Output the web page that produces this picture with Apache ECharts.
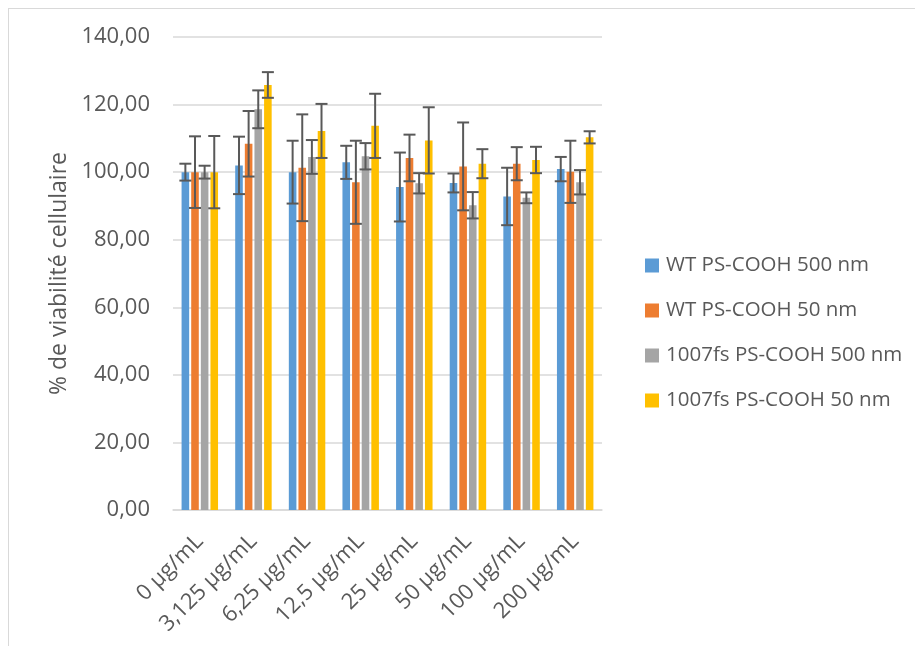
<!DOCTYPE html>
<html><head><meta charset="utf-8">
<script src="https://cdn.jsdelivr.net/npm/echarts@6/dist/echarts.min.js"></script>
<style>
html,body{margin:0;padding:0;background:#fff;}
#frame{position:absolute;left:8px;top:8px;width:920px;height:650px;border-left:1.5px solid #d9d9d9;border-top:1.5px solid #d9d9d9;}
#c{position:absolute;left:0;top:0;width:915px;height:646px;}
</style></head><body>
<div id="frame"></div>
<div id="c"></div>
<script>
const categories = ['0 µg/mL','3,125 µg/mL','6,25 µg/mL','12,5 µg/mL','25 µg/mL','50 µg/mL','100 µg/mL','200 µg/mL'];
const seriesNames = ['WT PS-COOH 500 nm','WT PS-COOH 50 nm','1007fs PS-COOH 500 nm','1007fs PS-COOH 50 nm'];
const colors = ['#5B9BD5','#ED7D31','#A5A5A5','#FFC000'];
const wt500 = [100.0, 102.0, 100.0, 102.9, 95.6, 96.8, 92.8, 100.9];
const wt50 = [100.0, 108.4, 101.3, 97.0, 104.2, 101.7, 102.5, 100.1];
const fs500 = [100.0, 118.6, 104.5, 104.7, 96.7, 90.2, 92.4, 97.0];
const fs50 = [100.0, 125.8, 112.2, 113.7, 109.4, 102.5, 103.6, 110.3];
const wt500Err = [2.5, 8.5, 9.3, 4.9, 10.2, 2.8, 8.5, 3.6];
const wt50Err = [10.6, 9.7, 15.8, 12.3, 6.9, 13.0, 4.9, 9.2];
const fs500Err = [1.9, 5.6, 5.0, 3.9, 3.0, 3.9, 1.6, 3.6];
const fs50Err = [10.7, 3.8, 8.0, 9.5, 9.8, 4.3, 3.9, 1.8];
const yTicks = [0, 20, 40, 60, 80, 100, 120, 140];

const values = [wt500, wt50, fs500, fs50];
const errors = [wt500Err, wt50Err, fs500Err, fs50Err];
const CAT_GAP = 0.32, BAR_GAP = 0.27;
const FONT = 'Open Sans';

const chart = echarts.init(document.getElementById('c'));
const series = [];
values.forEach((v, si) => {
  series.push({
    name: seriesNames[si], type: 'bar', data: v,
    itemStyle: {color: colors[si]},
    barGap: (BAR_GAP*100)+'%', barCategoryGap: (CAT_GAP*100)+'%'
  });
});
values.forEach((v, si) => {
  series.push({
    type: 'custom', silent: true, z: 10,
    data: v.map((val, i) => [i, val - errors[si][i], val + errors[si][i]]),
    renderItem: function(params, api) {
      const i = api.value(0);
      const lo = api.coord([i, api.value(1)]);
      const hi = api.coord([i, api.value(2)]);
      const catW = api.size([1, 0])[0];
      const groupW = catW * (1 - CAT_GAP);
      const bw = groupW / (4 + 3 * BAR_GAP);
      const x = lo[0] - groupW / 2 + bw / 2 + si * bw * (1 + BAR_GAP);
      const cap = 6;
      const st = {stroke: '#595959', lineWidth: 2};
      return {type: 'group', children: [
        {type: 'line', shape: {x1: x, y1: lo[1], x2: x, y2: hi[1]}, style: st},
        {type: 'line', shape: {x1: x - cap, y1: lo[1], x2: x + cap, y2: lo[1]}, style: st},
        {type: 'line', shape: {x1: x - cap, y1: hi[1], x2: x + cap, y2: hi[1]}, style: st}
      ]};
    }
  });
});

chart.setOption({
  animation: false,
  textStyle: {fontFamily: FONT},
  grid: {left: 173, right: 313, top: 37, bottom: 136},
  legend: {
    orient: 'vertical', left: 640, top: 250, itemGap: 24,
    itemWidth: 14, itemHeight: 14, icon: 'rect',
    data: seriesNames,
    textStyle: {fontFamily: FONT, fontSize: 20.5, lineHeight: 21, color: '#595959', padding: [0,0,0,2]}
  },
  xAxis: {
    type: 'category', data: categories,
    axisLine: {lineStyle: {color: '#d9d9d9', width: 1.5}},
    axisTick: {show: false},
    axisLabel: {rotate: 45, fontFamily: FONT, fontSize: 22, color: '#595959', margin: 28, interval: 0}
  },
  yAxis: {
    type: 'value', min: 0, max: 140, interval: 20,
    name: '% de viabilité cellulaire', nameLocation: 'middle', nameGap: 102, nameRotate: 90,
    nameTextStyle: {fontFamily: FONT, fontSize: 23, color: '#595959'},
    axisLabel: {fontFamily: FONT, fontSize: 22, color: '#595959', margin: 23,
      formatter: v => yTicks.includes(v) ? v.toFixed(2).replace('.', ',') : ''},
    splitLine: {lineStyle: {color: '#d9d9d9', width: 1.5}},
    axisLine: {show: false}, axisTick: {show: false}
  },
  series: series
});
</script></body></html>
